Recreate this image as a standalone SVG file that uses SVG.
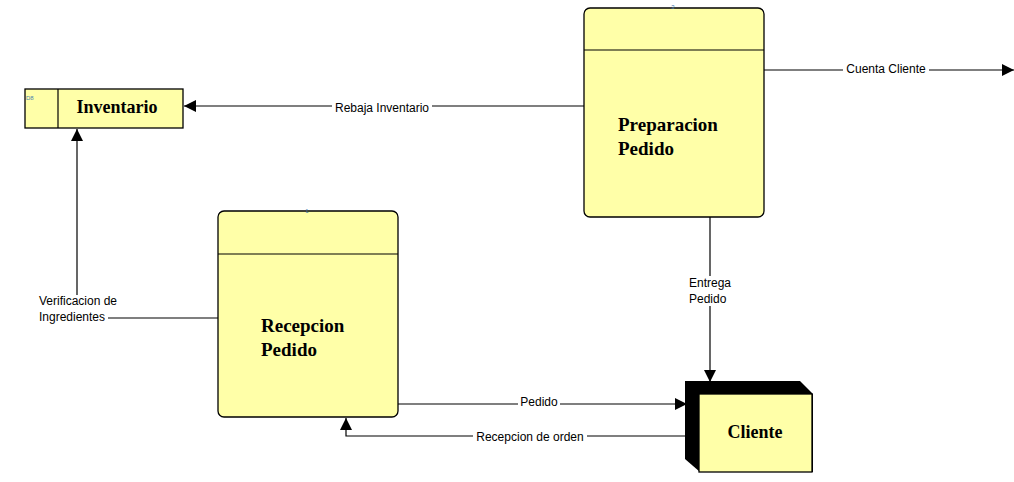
<svg xmlns="http://www.w3.org/2000/svg" width="1014" height="482" viewBox="0 0 1014 482">
<style>
.box{fill:#ffffa8;stroke:#000;stroke-width:1.3}
.ttl{font-family:"Liberation Serif",serif;font-weight:bold;font-size:19px;fill:#000}
.ttl2{font-family:"Liberation Serif",serif;font-weight:bold;font-size:18px;fill:#000}
.lbl{font-family:"Liberation Sans",Arial,sans-serif;font-size:12px;fill:#000}
.tiny{font-family:"Liberation Sans",Arial,sans-serif;font-size:6px;fill:#4a7fb0}
.ln{fill:none;stroke:#000;stroke-width:1.2}
</style>
<defs>
<marker id="ah" markerWidth="12" markerHeight="12" refX="12" refY="6" orient="auto" markerUnits="userSpaceOnUse">
<path d="M0,0 L12,6 L0,12 Z" fill="#000"/>
</marker>
</defs>
<rect width="1014" height="482" fill="#fff"/>
<g id="connectors">
<line class="ln" x1="584" y1="106" x2="184" y2="106" marker-end="url(#ah)"/>
<rect x="332" y="100" width="100" height="14" fill="#fff"/>
<text class="lbl" x="382" y="112" text-anchor="middle">Rebaja Inventario</text>
<line class="ln" x1="764" y1="70" x2="1014" y2="70" marker-end="url(#ah)"/>
<rect x="843" y="62" width="86" height="14" fill="#fff"/>
<text class="lbl" x="886" y="73" text-anchor="middle">Cuenta Cliente</text>
<line class="ln" x1="710" y1="217" x2="710" y2="382" marker-end="url(#ah)"/>
<rect x="686" y="276" width="48" height="30" fill="#fff"/>
<text class="lbl" x="689" y="287">Entrega</text>
<text class="lbl" x="689" y="303">Pedido</text>
<line class="ln" x1="398" y1="404" x2="687" y2="404" marker-end="url(#ah)"/>
<rect x="518" y="396" width="42" height="14" fill="#fff"/>
<text class="lbl" x="539" y="406" text-anchor="middle">Pedido</text>
<polyline class="ln" points="686,436 346,436 346,418" marker-end="url(#ah)"/>
<rect x="473" y="429" width="114" height="14" fill="#fff"/>
<text class="lbl" x="530" y="441" text-anchor="middle">Recepcion de orden</text>
<line class="ln" x1="218" y1="318" x2="108" y2="318"/>
<line class="ln" x1="77" y1="295" x2="77" y2="129" marker-end="url(#ah)"/>
<text class="lbl" x="39" y="305">Verificacion de</text>
<text class="lbl" x="39" y="321">Ingredientes</text>
</g>
<g id="inventario">
<rect class="box" x="25" y="89" width="158" height="39"/>
<line class="ln" x1="58" y1="89" x2="58" y2="128"/>
<text class="tiny" x="26" y="100">D8</text>
<text class="ttl2" x="117" y="113" text-anchor="middle">Inventario</text>
</g>
<g id="preparacion">
<rect class="box" x="584" y="8" width="180" height="209" rx="6"/>
<line class="ln" x1="584" y1="50" x2="764" y2="50"/>
<text class="tiny" x="673" y="9" text-anchor="middle">3</text>
<text class="ttl" x="618" y="131">Preparacion</text>
<text class="ttl" x="618" y="155">Pedido</text>
</g>
<g id="recepcion">
<rect class="box" x="218" y="211" width="180" height="206" rx="6"/>
<line class="ln" x1="218" y1="254" x2="398" y2="254"/>
<text class="tiny" x="307" y="213" text-anchor="middle">1</text>
<text class="ttl" x="261" y="332">Recepcion</text>
<text class="ttl" x="261" y="356">Pedido</text>
</g>
<g id="cliente">
<polygon points="685,381 800,381 813,394 813,472 700,472 685,459" fill="#000"/>
<rect class="box" x="699" y="394" width="113" height="78"/>
<text class="ttl2" x="755" y="438" text-anchor="middle">Cliente</text>
</g>
</svg>
